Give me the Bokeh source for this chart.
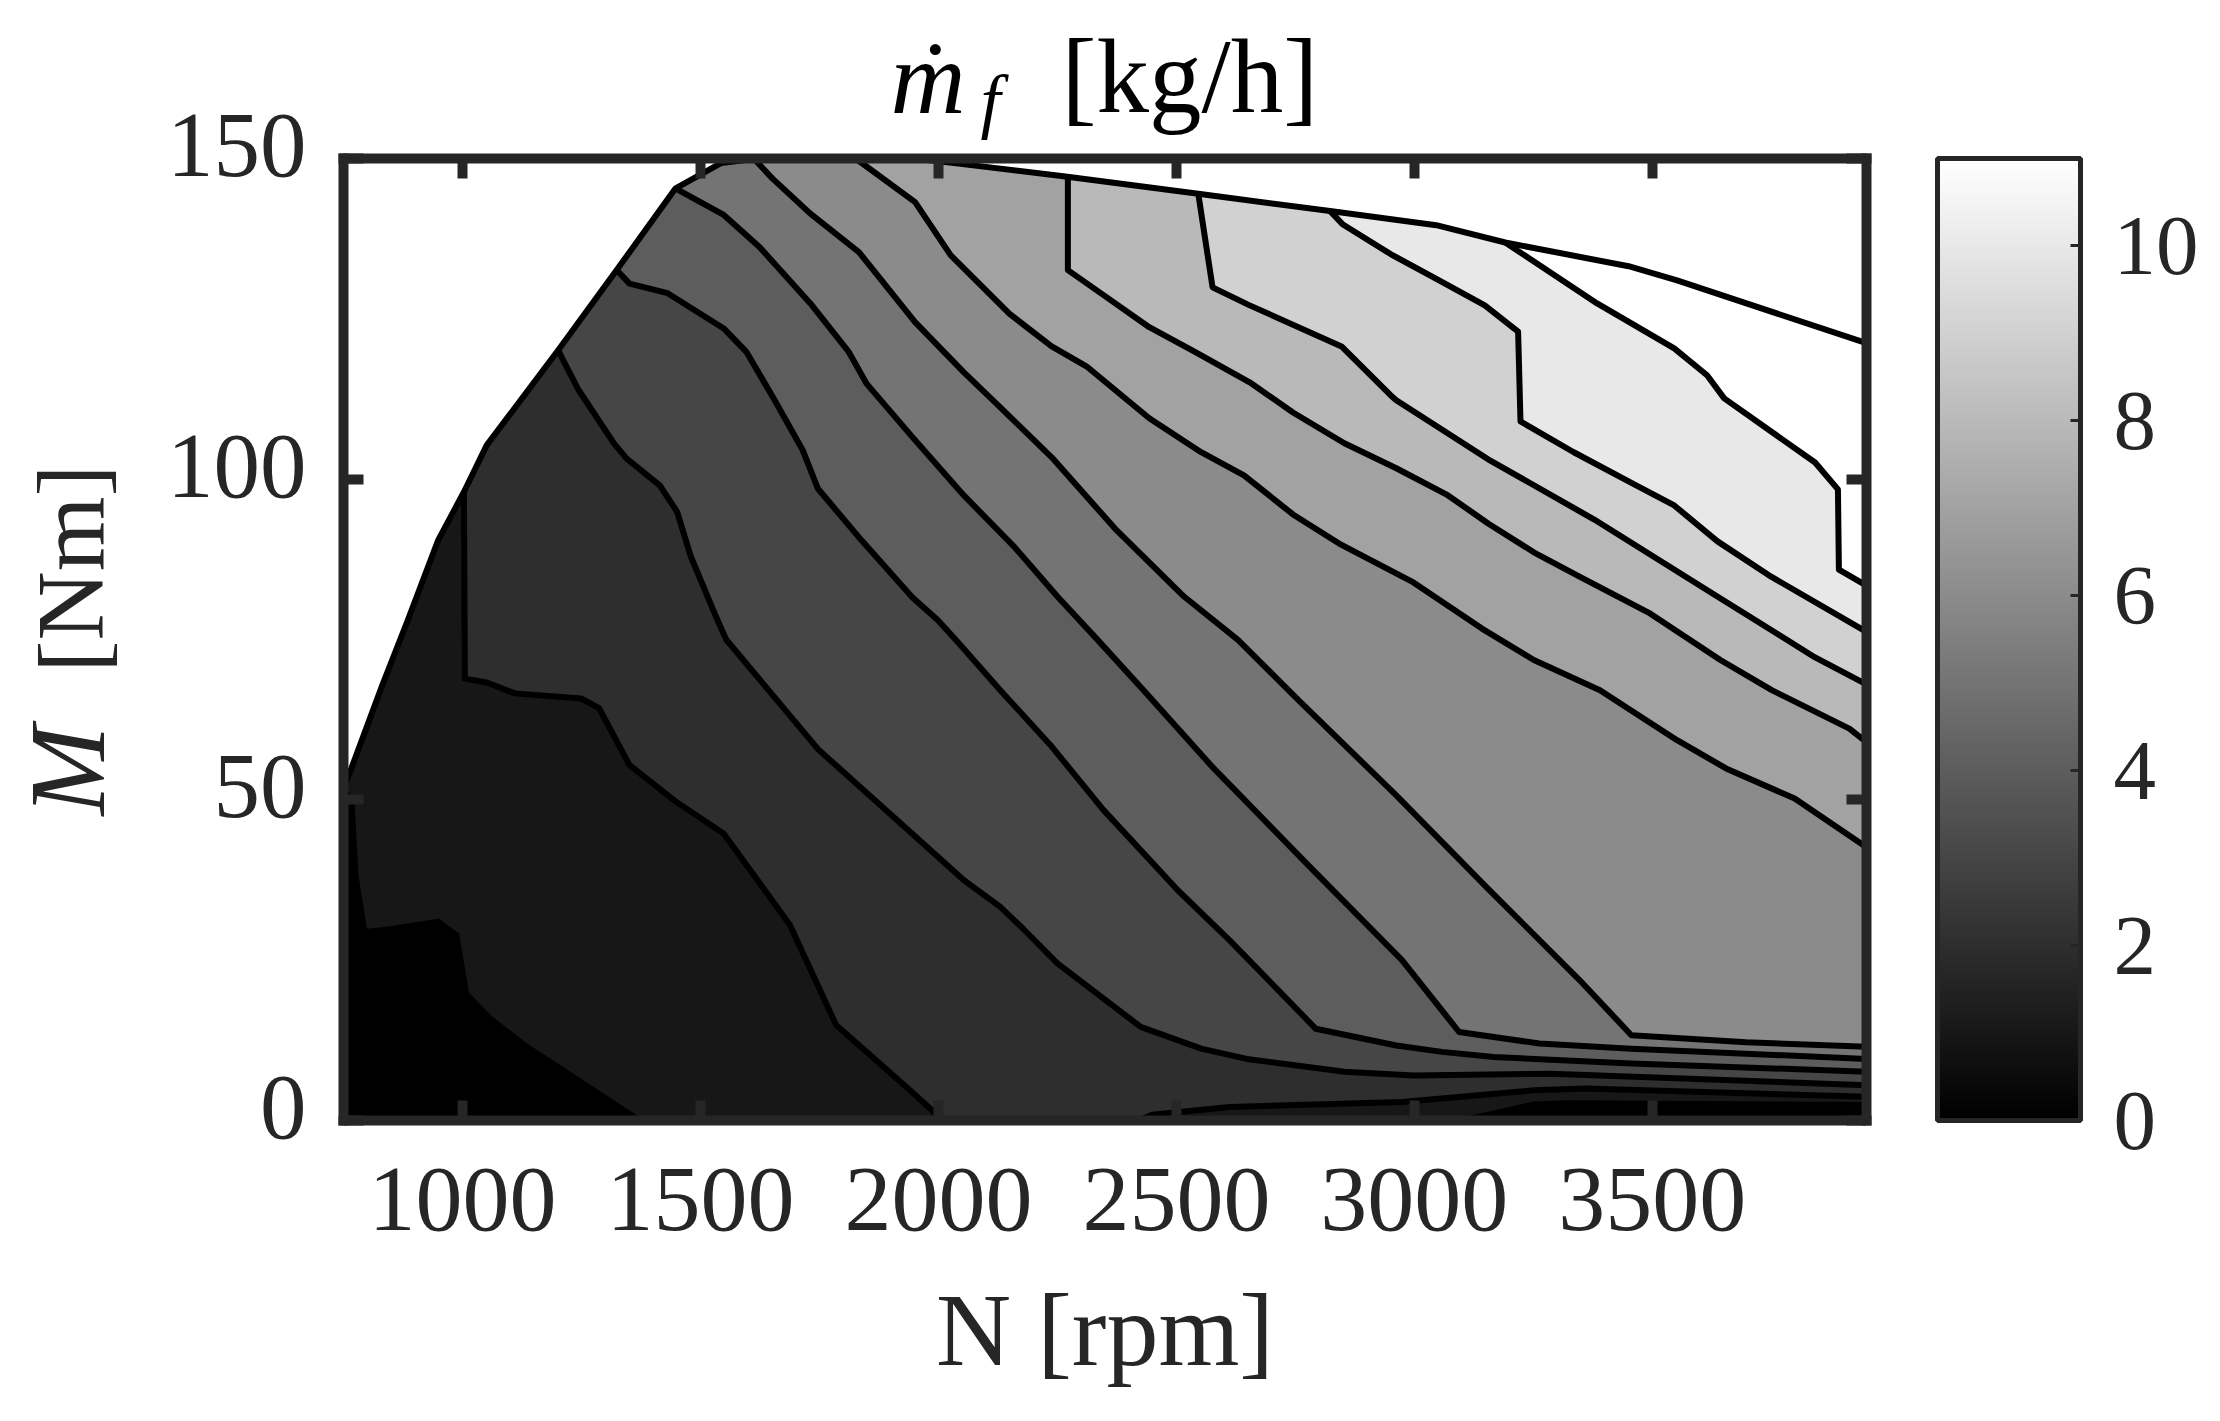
from bokeh.embed import file_html
from bokeh.models import ColorBar, FixedTicker, Label, LinearAxis, LinearColorMapper, Range1d
from bokeh.palettes import Greys256
from bokeh.plotting import figure
from bokeh.resources import INLINE

FRAME_COLOR = "#262626"
SERIF = "Liberation Serif"

x_ticks = [1000, 1500, 2000, 2500, 3000, 3500]
y_ticks = [0, 50, 100, 150]
cbar_ticks = [0, 2, 4, 6, 8, 10]
levels = [1, 2, 3, 4, 5, 6, 7, 8, 9, 10, 11]

# map limit (full load curve), white above it
envelope_rpm = [750, 760, 831, 885, 949, 1003, 1051, 1201, 1324, 1447, 1544, 1620, 1950, 2042, 2267, 2546, 2823, 3046, 3191, 3450, 3552, 3950]
envelope_nm = [52, 53.6, 67.8, 78, 90.5, 98, 105.3, 120.1, 132.6, 145.3, 149.3, 150, 150, 149.2, 147.2, 144.5, 141.8, 139.6, 136.9, 133.2, 131, 121.2]

# contour lines, some are in two pieces
l1a_rpm = [750, 767, 775, 794, 837, 949, 987, 1008, 1056, 1131, 1372]
l1a_nm = [52, 49.5, 38.3, 29.4, 29.7, 31, 28.9, 19.7, 16, 11.7, 0]
l1b_rpm = [3100, 3251, 3323, 3950]
l1b_nm = [0, 2.5, 2.7, 2.4]

l2a_rpm = [1003, 1005, 1051, 1110, 1249, 1287, 1351, 1447, 1549, 1688, 1785, 1945, 2010]
l2a_nm = [98, 68.9, 68.3, 66.6, 65.8, 64.3, 55.4, 49.8, 44.7, 30.5, 14.9, 4.4, 0]
l2b_rpm = [2420, 2449, 2612, 2974, 3251, 3359, 3950]
l2b_nm = [0, 0.9, 2.1, 2.9, 4.7, 5, 3.7]

l3_rpm = [1201, 1244, 1319, 1345, 1415, 1451, 1480, 1533, 1554, 1747, 1945, 2053, 2130, 2178, 2250, 2425, 2552, 2648, 2853, 2998, 3287, 3950]
l3_nm = [120.1, 113.9, 105.5, 103.2, 99, 94.9, 87.9, 78.5, 75, 57.9, 44.7, 37.5, 33.3, 29.9, 24.5, 14.6, 11.2, 9.6, 7.6, 7, 7.3, 5.5]

l4_rpm = [1324, 1351, 1431, 1549, 1597, 1656, 1715, 1747, 1838, 1945, 1999, 2042, 2130, 2238, 2347, 2503, 2612, 2793, 2962, 3058, 3167, 3456, 3950]
l4_nm = [132.6, 130.5, 129, 123.5, 119.8, 112.3, 104.5, 98.5, 90.5, 81.6, 78, 74.5, 67.1, 58.3, 48.4, 35.9, 28.1, 14.3, 11.7, 10.7, 9.9, 8.9, 7.6]

l5_rpm = [1453, 1549, 1624, 1731, 1812, 1849, 1945, 2053, 2160, 2250, 2335, 2431, 2576, 2781, 2974, 3094, 3263, 3456, 3950]
l5_nm = [145.1, 141.2, 136.2, 127.4, 119.8, 114.9, 106.6, 97.5, 89.4, 81.7, 74.9, 67.1, 55.1, 39.5, 25, 13.8, 12, 11.2, 9.6]

l6_rpm = [1612, 1651, 1731, 1833, 1951, 2053, 2130, 2238, 2371, 2516, 2630, 2757, 2962, 3154, 3347, 3456, 3697, 3950]
l6_nm = [150, 146.9, 141.4, 135.4, 124.5, 116.7, 111.2, 103.4, 92.3, 81.7, 74.9, 65.5, 50.7, 36.2, 21.9, 13.3, 12.2, 11.5]

l7_rpm = [1826, 1951, 2026, 2149, 2238, 2311, 2443, 2552, 2642, 2745, 2841, 2998, 3142, 3251, 3390, 3552, 3655, 3799, 3950]
l7_nm = [150, 143.2, 134.9, 125.8, 120.7, 117.6, 109.5, 104.2, 100.6, 94.5, 90, 83.9, 76.7, 71.8, 67.1, 59.3, 54.9, 50.2, 42.6]

l8_rpm = [2272, 2272, 2347, 2443, 2540, 2654, 2745, 2853, 2962, 3070, 3155, 3251, 3347, 3492, 3643, 3751, 3914, 3950]
l8_nm = [147.3, 132.6, 128.7, 123.7, 119.8, 115.1, 110.4, 105.6, 101.7, 97.5, 93.1, 88.6, 84.8, 79.2, 71.8, 67.1, 61.1, 59]

l9_rpm = [2546, 2576, 2654, 2847, 2950, 2962, 3155, 3378, 3613, 3842, 3950]
l9_nm = [144.5, 129.9, 127.1, 120.7, 113.1, 112.3, 103.1, 93.7, 82.8, 72.2, 68]

l10_rpm = [2823, 2850, 2950, 3052, 3148, 3218, 3223, 3335, 3462, 3546, 3637, 3745, 3950]
l10_nm = [141.8, 139.7, 135.1, 131, 127.1, 123, 109, 104.2, 99.2, 95.9, 90.3, 85, 76.2]

l11_rpm = [3191, 3384, 3546, 3615, 3651, 3842, 3890, 3892, 3950]
l11_nm = [136.9, 127.4, 120.4, 116.2, 112.6, 102.6, 98.4, 85.9, 83.4]

pieces = [
    [(l1a_rpm, l1a_nm), (l1b_rpm, l1b_nm)],
    [(l2a_rpm, l2a_nm), (l2b_rpm, l2b_nm)],
    [(l3_rpm, l3_nm)],
    [(l4_rpm, l4_nm)],
    [(l5_rpm, l5_nm)],
    [(l6_rpm, l6_nm)],
    [(l7_rpm, l7_nm)],
    [(l8_rpm, l8_nm)],
    [(l9_rpm, l9_nm)],
    [(l10_rpm, l10_nm)],
    [(l11_rpm, l11_nm)],
]

X_MIN, X_MAX = 750, 3950
Y_MIN, Y_MAX = 0, 150
C_MAX = 11

# labels get clipped to the frame, so the frame fills the whole canvas and
# the axes are pinned at the map limits. Map box in page pixels:
WIDTH, HEIGHT = 2216, 1417
BOX_LEFT, BOX_RIGHT, BOX_TOP, BOX_BOTTOM = 343, 1866, 158, 1120
RPM_PER_PX = (X_MAX - X_MIN) / (BOX_RIGHT - BOX_LEFT)
NM_PER_PX = (Y_MAX - Y_MIN) / (BOX_BOTTOM - BOX_TOP)


def gray(value):
    g = round(255 * value / C_MAX)
    return f"#{g:02x}{g:02x}{g:02x}"


p = figure(width=WIDTH, height=HEIGHT, output_backend="svg", toolbar_location=None,
           x_range=Range1d(X_MIN - BOX_LEFT * RPM_PER_PX, X_MAX + (WIDTH - BOX_RIGHT) * RPM_PER_PX),
           y_range=Range1d(Y_MIN - (HEIGHT - BOX_BOTTOM) * NM_PER_PX, Y_MAX + BOX_TOP * NM_PER_PX),
           min_border=0, x_axis_type=None, y_axis_type=None,
           background_fill_color="white", border_fill_color="white", outline_line_color=None)
p.grid.visible = False

# painter's order: lowest band first, each next region covers the one below
p.patch(envelope_rpm + [X_MAX, X_MIN], envelope_nm + [Y_MIN, Y_MIN], fill_color=gray(0), line_color=None)
for level, parts in zip(levels, pieces):
    xs, ys = [], []
    for part_x, part_y in parts:
        xs += part_x
        ys += part_y
    p.patch(xs + [X_MAX, xs[0]], ys + [Y_MAX, Y_MAX], fill_color=gray(level), line_color=None)

# everything above the full load curve stays white
p.patch(envelope_rpm + [X_MAX, X_MIN], envelope_nm + [Y_MAX, Y_MAX], fill_color="white", line_color=None)

for parts in pieces:
    for part_x, part_y in parts:
        p.line(part_x, part_y, line_color="black", line_width=6, line_join="round")
p.line(envelope_rpm, envelope_nm, line_color="black", line_width=6, line_join="round")

# half the frame stroke past each end, so the corners close
X_BOUNDS = (X_MIN - 5 * RPM_PER_PX, X_MAX + 5 * RPM_PER_PX)
Y_BOUNDS = (Y_MIN - 5 * NM_PER_PX, Y_MAX + 5 * NM_PER_PX)


def style_axis(ax):
    ax.axis_line_color = FRAME_COLOR
    ax.axis_line_width = 10
    ax.major_tick_line_color = FRAME_COLOR
    ax.major_tick_line_width = 10
    ax.major_tick_in = 20
    ax.major_tick_out = 0
    ax.minor_tick_line_color = None
    ax.major_label_text_font = SERIF
    ax.major_label_text_color = FRAME_COLOR


x_axis = LinearAxis(ticker=FixedTicker(ticks=x_ticks), axis_label="N [rpm]", fixed_location=Y_MIN, bounds=X_BOUNDS)
style_axis(x_axis)
x_axis.major_label_text_font_size = "94px"
x_axis.major_label_standoff = 48
x_axis.axis_label_text_font = SERIF
x_axis.axis_label_text_font_size = "104px"
x_axis.axis_label_text_font_style = "normal"
x_axis.axis_label_text_color = FRAME_COLOR
x_axis.axis_label_standoff = 39
p.add_layout(x_axis, "below")

# y tick labels sit a little above their ticks, which the axis itself can't do
y_axis = LinearAxis(ticker=FixedTicker(ticks=y_ticks), major_label_overrides={t: "" for t in y_ticks},
                    fixed_location=X_MIN, bounds=Y_BOUNDS)
style_axis(y_axis)
p.add_layout(y_axis, "left")
for t in y_ticks:
    p.add_layout(Label(x=X_MIN, y=t, x_offset=-37, y_offset=13, text=str(t), text_font=SERIF,
                       text_font_size="93px", text_color=FRAME_COLOR, text_align="right", text_baseline="middle"))

# box ticks, no labels on the mirrored sides
top_axis = LinearAxis(ticker=FixedTicker(ticks=x_ticks), major_label_overrides={t: "" for t in x_ticks},
                      fixed_location=Y_MAX, bounds=X_BOUNDS)
style_axis(top_axis)
p.add_layout(top_axis, "above")
right_axis = LinearAxis(ticker=FixedTicker(ticks=y_ticks), major_label_overrides={t: "" for t in y_ticks},
                        fixed_location=X_MAX, bounds=Y_BOUNDS)
style_axis(right_axis)
p.add_layout(right_axis, "right")

mapper = LinearColorMapper(palette=list(Greys256), low=0, high=C_MAX)
cbar = ColorBar(color_mapper=mapper, ticker=FixedTicker(ticks=cbar_ticks), width=143, height=962,
                location=(1937, HEIGHT - BOX_BOTTOM), margin=0, padding=0, label_standoff=33,
                major_tick_in=10, major_tick_out=0, major_tick_line_color=FRAME_COLOR, major_tick_line_width=3,
                minor_tick_line_color=None, bar_line_color=FRAME_COLOR, bar_line_width=5,
                major_label_text_font=SERIF, major_label_text_font_size="85px",
                major_label_text_color=FRAME_COLOR, major_label_text_align="left")
p.add_layout(cbar)


def text(dx, dy, s, size, style="normal", color="black", angle=0.0):
    # placed in pixels from the lower left corner of the map box
    p.add_layout(Label(x=X_MIN, y=Y_MIN, x_offset=dx, y_offset=dy, text=s, text_font=SERIF,
                       text_font_size=size, text_font_style=style, text_color=color, angle=angle,
                       text_baseline="bottom", text_align="left"))


# title and y label mix italic and upright, so they are pieced together
text(547, 986, "\u1e41", "104px", "italic")
text(637, 980, "f", "72px", "italic")
text(718, 986, "[kg/h]", "105px")
text(-217, 305, "M", "108px", "italic", FRAME_COLOR, 1.5708)
text(-219, 448, "[Nm]", "96px", "normal", FRAME_COLOR, 1.5708)

open("out.html", "w").write(file_html(p, INLINE))
